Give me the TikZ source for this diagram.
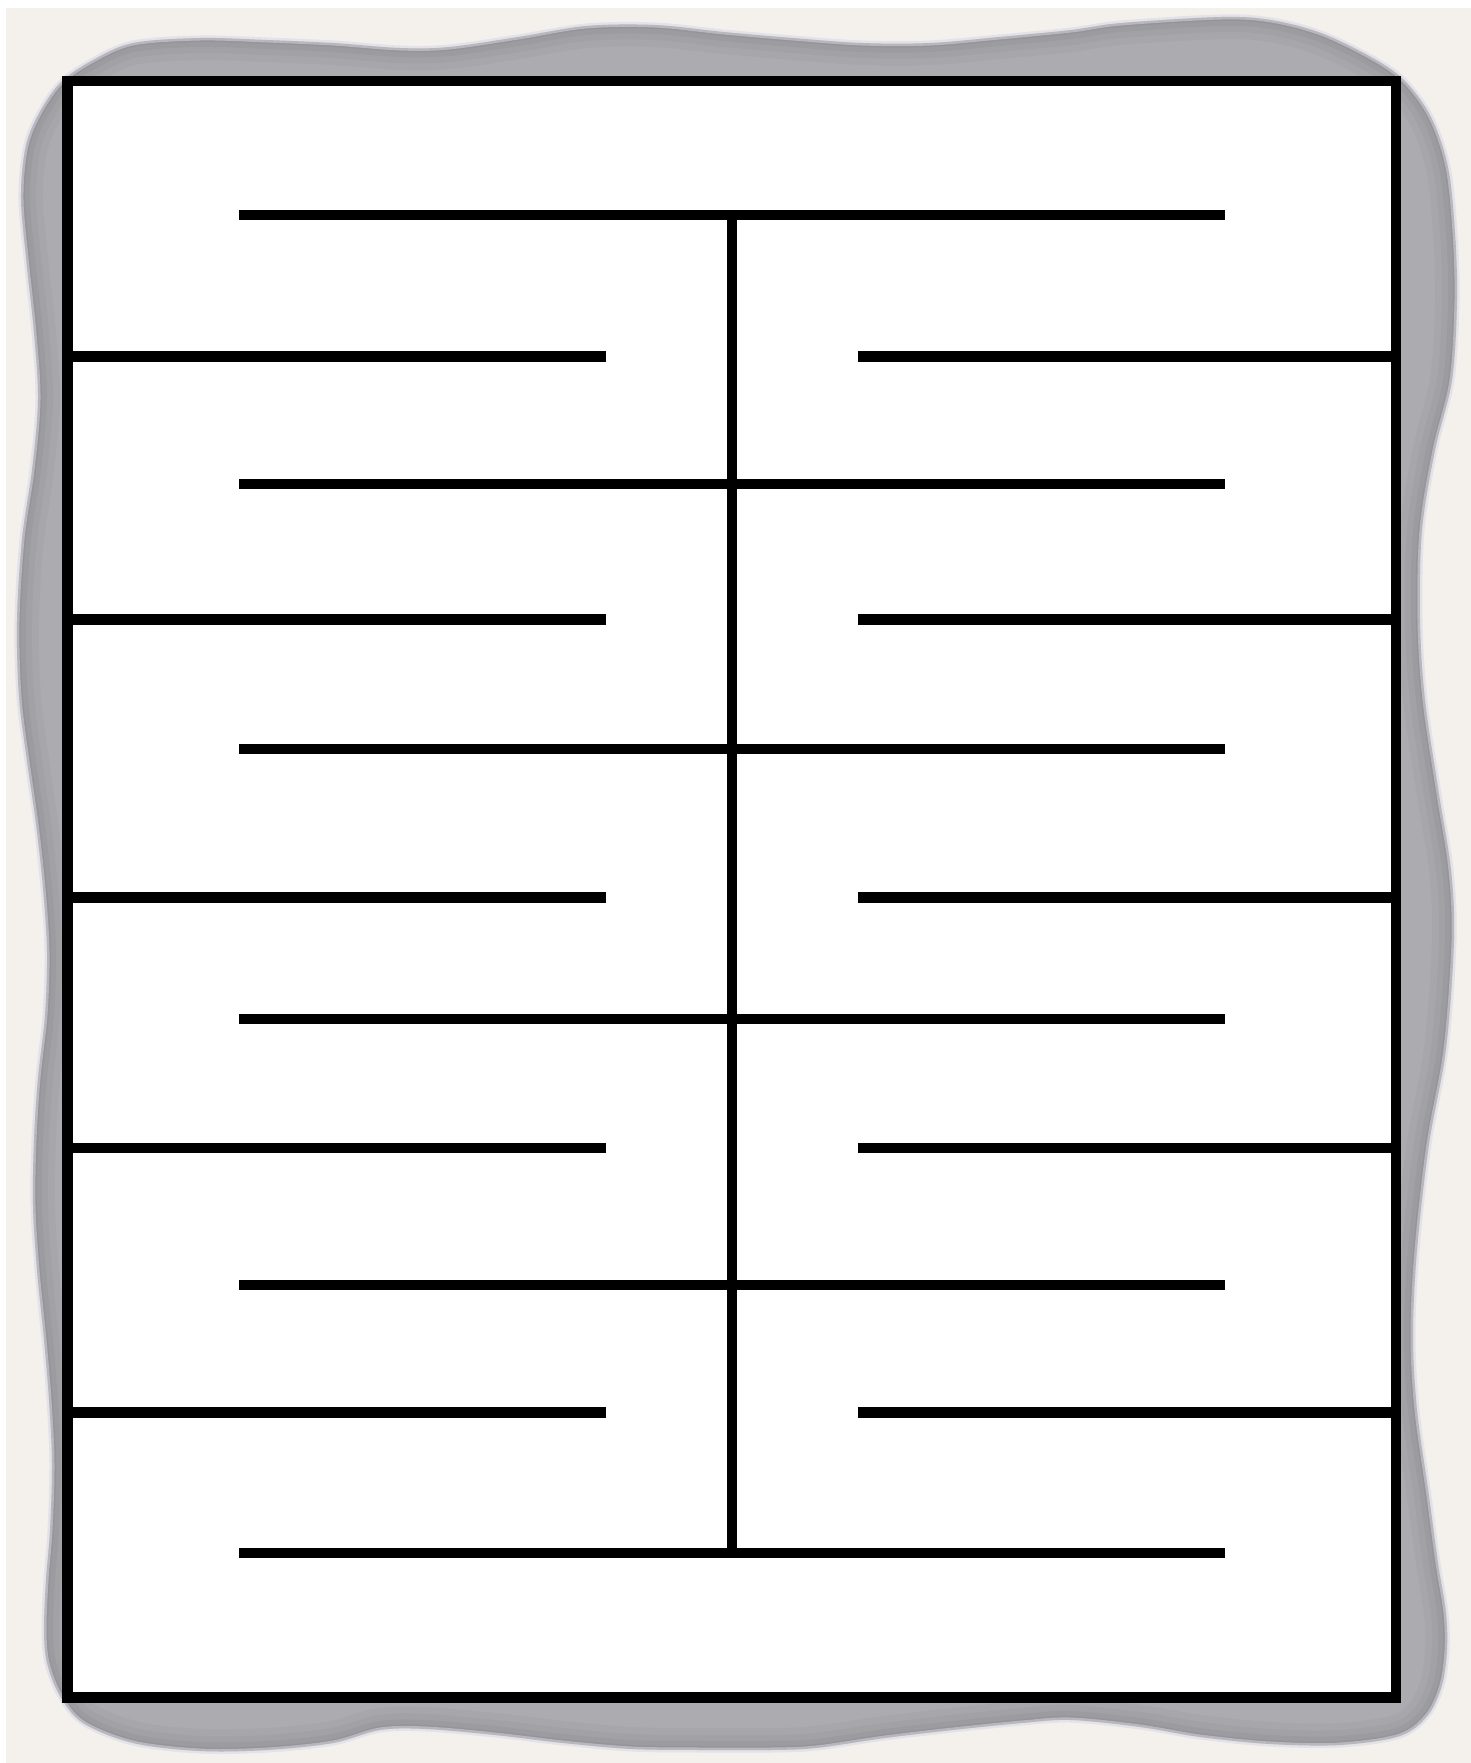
\documentclass[tikz,border=0pt]{standalone}
\usepackage{tikz}
\definecolor{canvas}{HTML}{F4F0EC}
\definecolor{halo}{HTML}{E2E2E8}
\definecolor{frame}{HTML}{ABABB0}
\definecolor{frameshade}{HTML}{707076}

\begin{document}
\begin{tikzpicture}[
  x=0.01cm, y=-0.01cm,
  wall/.style={line width=0.105cm, line cap=butt, black},
  mazebox/.style={line width=0.105cm, draw=black, fill=white},
  blob/.style={fill=frame, draw=halo, line width=0.05cm}
]
  % page
  \fill[white] (0,0) rectangle (1471,1763);
  \fill[canvas] (6,8) rectangle (1471,1763);
  \useasboundingbox (0,0) rectangle (1471,1763);

  % wavy backing sheet
  \path[save path=\blobpath] plot[smooth cycle, tension=0.55] coordinates {
    (60,83) (93,60) (133,43) (200,38) (267,40) (333,43) (400,48) (449,47)
    (518,37) (586,26) (655,25) (724,32) (793,38) (862,43) (930,43) (999,37)
    (1071,30) (1121,23) (1221,17) (1271,20) (1321,33) (1371,57) (1404,80)
    (1431,117) (1448,167) (1455,233) (1457,300) (1452,380) (1435,450)
    (1422,530) (1420,620) (1425,700) (1439,794) (1451,870) (1454,940)
    (1446,1049) (1429,1144) (1417,1250) (1413,1335) (1417,1410) (1429,1496)
    (1438,1563) (1446,1613) (1447,1650) (1442,1685) (1428,1715) (1400,1736)
    (1340,1745) (1270,1744) (1200,1737) (1140,1727) (1071,1720) (1022,1723)
    (953,1730) (885,1738) (816,1748) (770,1750) (701,1750) (632,1749)
    (563,1743) (495,1735) (426,1729) (380,1730) (333,1743) (267,1750)
    (200,1751) (133,1743) (83,1723) (60,1696) (47,1663) (44,1630) (46,1580)
    (50,1530) (52,1463) (49,1400) (44,1340) (37,1270) (33,1205) (34,1140)
    (38,1078) (45,1015) (47,951) (43,888) (36,824) (27,761) (19,697)
    (17,621) (22,539) (32,470) (38,400) (34,333) (27,267) (21,200)
    (25,150) (37,117)
  };
  \path[blob, use path=\blobpath];
  \begin{scope}
    \clip[use path=\blobpath];
    \foreach \w/\o in {44/0.07, 30/0.09, 18/0.11, 8/0.15}
      \draw[frameshade, opacity=\o, line width={\w*0.1mm}, use path=\blobpath];
  \end{scope}

  % maze outline
  \draw[mazebox] (67.5,81) rectangle (1396,1697.5);

  % spine
  \draw[wall] (732,215) -- (732,1553);

  % long rungs across the spine
  \foreach \ry in {215,484,749,1019,1285,1553}
    \draw[wall] (239,\ry) -- (1225,\ry);

  % short walls from the sides
  \foreach \wy in {356.5,619.7,897.4,1148.2,1412.5} {
    \draw[wall] (67.5,\wy) -- (605.5,\wy);
    \draw[wall] (858,\wy) -- (1396,\wy);
  }
\end{tikzpicture}
\end{document}
